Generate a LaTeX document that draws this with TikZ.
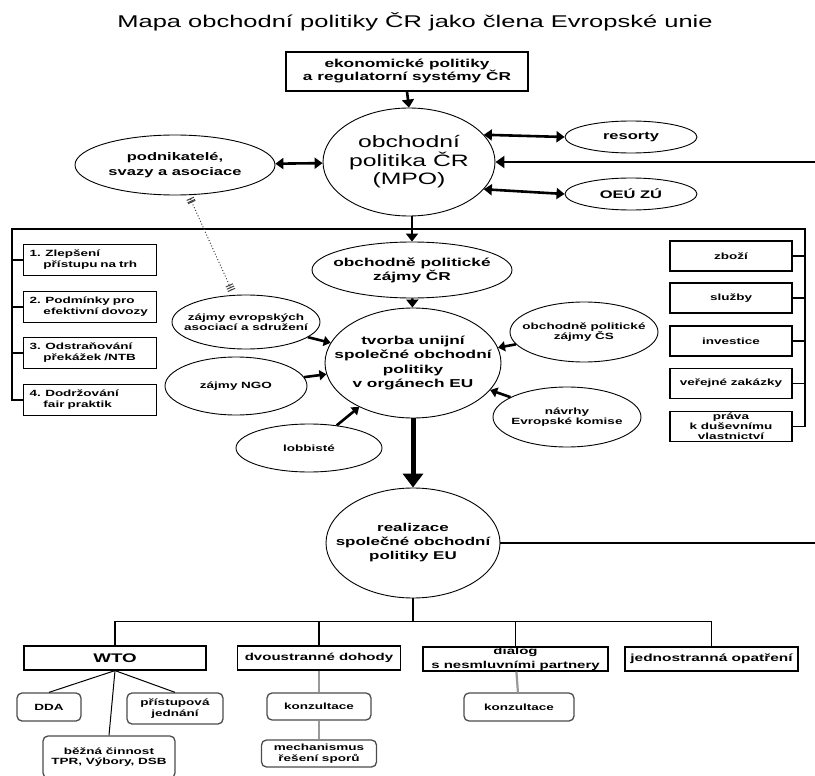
\documentclass[tikz,border=0pt]{standalone}
\usepackage{fontspec}
\setmainfont{Liberation Sans}[FakeStretch=1.5]
\usetikzlibrary{shapes.geometric,arrows.meta}

\begin{document}
\begin{tikzpicture}[x=1pt, y=-1pt,
  el/.style={draw, ellipse, line width=0.9pt, inner xsep=-30pt, inner ysep=-12pt, align=center, font=\bfseries\fontsize{9}{10}\selectfont},
  bx/.style={draw, line width=1.2pt, inner sep=0pt, align=center, font=\bfseries\fontsize{9}{10.5}\selectfont},
  lbox/.style={bx, minimum height=31pt, text width=121pt, inner xsep=6pt, align=left, font=\bfseries\fontsize{9}{11}\selectfont},
  rbox/.style={bx, minimum width=122pt, minimum height=30pt, font=\bfseries\fontsize{9}{10}\selectfont},
  rnd/.style={draw=black!70, line width=1.3pt, rounded corners=5pt, inner sep=0pt, align=center, font=\bfseries\fontsize{9}{10.5}\selectfont},
  ln/.style={line width=1.3pt},
  gln/.style={line width=2.2pt, black!40},
  arr/.style={line width=2.6pt, -{Triangle[length=8pt,width=12pt]}},
  darr/.style={line width=2.6pt, {Triangle[length=8pt,width=11pt]}-{Triangle[length=8pt,width=11pt]}},
  sarr/.style={line width=2.6pt, -{Triangle[length=7pt,width=10pt]}},
  barr/.style={line width=5pt, -{Triangle[length=14pt,width=20pt]}}]

  \useasboundingbox (0,0) rectangle (815,776);

  \node (title) at (415,22) [font=\fontsize{17}{20}\selectfont] {Mapa obchodní politiky ČR jako člena Evropské unie};

  \node (eko) at (407,71.5) [bx, minimum width=242pt, minimum height=39pt, font=\bfseries\fontsize{11.5}{13}\selectfont] {ekonomické politiky\\a regulatorní systémy ČR};
  \node (mpo) at (409,162) [el, minimum width=172pt, minimum height=108pt, font=\fontsize{16.5}{18.5}\selectfont] {obchodní\\politika ČR\\(MPO)};
  \node (pod) at (175,165) [el, minimum width=200pt, minimum height=60pt, font=\bfseries\fontsize{11}{15}\selectfont] {podnikatelé,\\svazy a asociace};
  \node (res) at (631,137) [el, minimum width=132pt, minimum height=32pt, font=\bfseries\fontsize{11}{13}\selectfont] {resorty};
  \node (oeu) at (631,194) [el, minimum width=132pt, minimum height=32pt, font=\bfseries\fontsize{11}{13}\selectfont] {OEÚ ZÚ};

  \node (opz) at (412,270) [el, minimum width=200pt, minimum height=56pt, font=\bfseries\fontsize{11.5}{14}\selectfont] {obchodně politické\\zájmy ČR};
  \node (tvo) at (413,363) [el, minimum width=176pt, minimum height=110pt, font=\bfseries\fontsize{11.5}{14.5}\selectfont] {tvorba unijní\\společné obchodní\\politiky\\v orgánech EU};
  \node (zev) at (246,322) [el, minimum width=148pt, minimum height=54pt] {zájmy evropských\\asociací a sdružení};
  \node (ngo) at (236,386) [el, minimum width=142pt, minimum height=58pt] {zájmy NGO};
  \node (lob) at (309,448) [el, minimum width=146pt, minimum height=48pt] {lobbisté};
  \node (cs) at (584,332) [el, minimum width=148pt, minimum height=60pt] {obchodně politické\\zájmy ČS};
  \node (nav) at (567,417) [el, minimum width=148pt, minimum height=60pt] {návrhy\\Evropské komise};
  \node (rea) at (413,543) [el, minimum width=174pt, minimum height=110pt, font=\bfseries\fontsize{11.3}{14}\selectfont] {realizace\\společné obchodní\\politiky EU};

  \node (lb1) at (90,260) [lbox] {1. Zlepšení\\\hspace*{14pt}přístupu na trh};
  \node (lb2) at (90,307) [lbox] {2. Podmínky pro\\\hspace*{14pt}efektivní dovozy};
  \node (lb3) at (90,353) [lbox] {3. Odstraňování\\\hspace*{14pt}překážek /NTB};
  \node (lb4) at (90,400) [lbox] {4. Dodržování\\\hspace*{14pt}fair praktik};

  \node (rb1) at (731,256) [rbox] {zboží};
  \node (rb2) at (731,298) [rbox] {služby};
  \node (rb3) at (731,341) [rbox] {investice};
  \node (rb4) at (731,383.5) [rbox] {veřejné zakázky};
  \node (rb5) at (731,426.5) [rbox] {práva\\k duševnímu\\vlastnictví};

  \node (wto) at (115,658) [bx, minimum width=182pt, minimum height=24pt, font=\bfseries\fontsize{12.5}{14}\selectfont] {WTO};
  \node (dvo) at (319,658) [bx, minimum width=163pt, minimum height=24pt, font=\bfseries\fontsize{10}{12}\selectfont] {dvoustranné dohody};
  \node (dia) at (515.5,659) [bx, minimum width=185pt, minimum height=24pt, font=\bfseries\fontsize{10}{14}\selectfont] {dialog\\s nesmluvními partnery};
  \node (jed) at (711.5,659) [bx, minimum width=173pt, minimum height=24pt, font=\bfseries\fontsize{10.3}{12}\selectfont] {jednostranná opatření};

  \node (dda) at (49,707) [rnd, minimum width=64pt, minimum height=28pt] {DDA};
  \node (pri) at (175,708.5) [rnd, minimum width=96pt, minimum height=31pt] {přístupová\\jednání};
  \node (bez) at (109,757) [rnd, minimum width=132pt, minimum height=42pt] {běžná činnost\\TPR, Výbory, DSB};
  \node (ko1) at (319,706.5) [rnd, minimum width=104pt, minimum height=27pt] {konzultace};
  \node (mec) at (319,753.5) [rnd, minimum width=115pt, minimum height=27pt] {mechanismus\\řešení sporů};
  \node (ko2) at (519,707) [rnd, minimum width=110pt, minimum height=28pt] {konzultace};

  \coordinate (rin) at (815,162);
  \coordinate (rout) at (815,543);
  \coordinate (lt) at (12,229);
  \coordinate (rt) at (805,229);

  \draw[arr] (eko.south) -- (mpo.north);
  \draw[darr] (pod) -- (mpo);
  \draw[darr] (mpo.20) -- (res.west);
  \draw[darr] (mpo.-20) -- (oeu.west);
  \draw[line width=2pt, -{Triangle[length=9pt,width=12pt]}] (rin) -- (mpo.east);

  \draw[ln] (lb4.west) -| (lt) -- (rt) |- (rb5.east);
  \foreach \i in {1,...,3} \draw[ln] (lt |- lb\i.west) -- (lb\i.west);
  \foreach \i in {1,...,4} \draw[ln] (rt |- rb\i.east) -- (rb\i.east);

  \draw[black!75, line width=1pt, dotted, {Bar[width=8pt,sep=1.5pt] Bar[width=8pt,sep=1.5pt] Bar[width=8pt]}-{Bar[width=8pt,sep=1.5pt] Bar[width=8pt,sep=1.5pt] Bar[width=8pt]}, shorten <=2pt, shorten >=5pt] (pod) -- (zev);

  \draw[arr] (mpo.south -| opz.north) -- (opz.north);
  \draw[arr] (opz) -- (tvo);
  \foreach \n in {zev,ngo,lob,cs,nav} \draw[sarr] (\n) -- (tvo);
  \draw[barr] (tvo) -- (rea);
  \draw[line width=2pt] (rea.east) -- (rout);

  \draw[ln] (rea.south) -- ++(0,23) coordinate (bus);
  \draw[ln] (wto.north) |- (bus) -| (jed.north);
  \draw[ln] (dvo.north) -- (dvo.north |- bus);
  \draw[ln] (dia.north) -- (dia.north |- bus);

  \draw[line width=1pt] (wto.south) -- (dda.north);
  \draw[line width=1pt] (wto.south) -- (pri.north);
  \draw[line width=1pt] (wto.south) -- (bez.north);
  \draw[gln] (dvo) -- (ko1);
  \draw[gln] (ko1) -- (mec);
  \draw[gln] (dia) -- (ko2);
\end{tikzpicture}
\end{document}
